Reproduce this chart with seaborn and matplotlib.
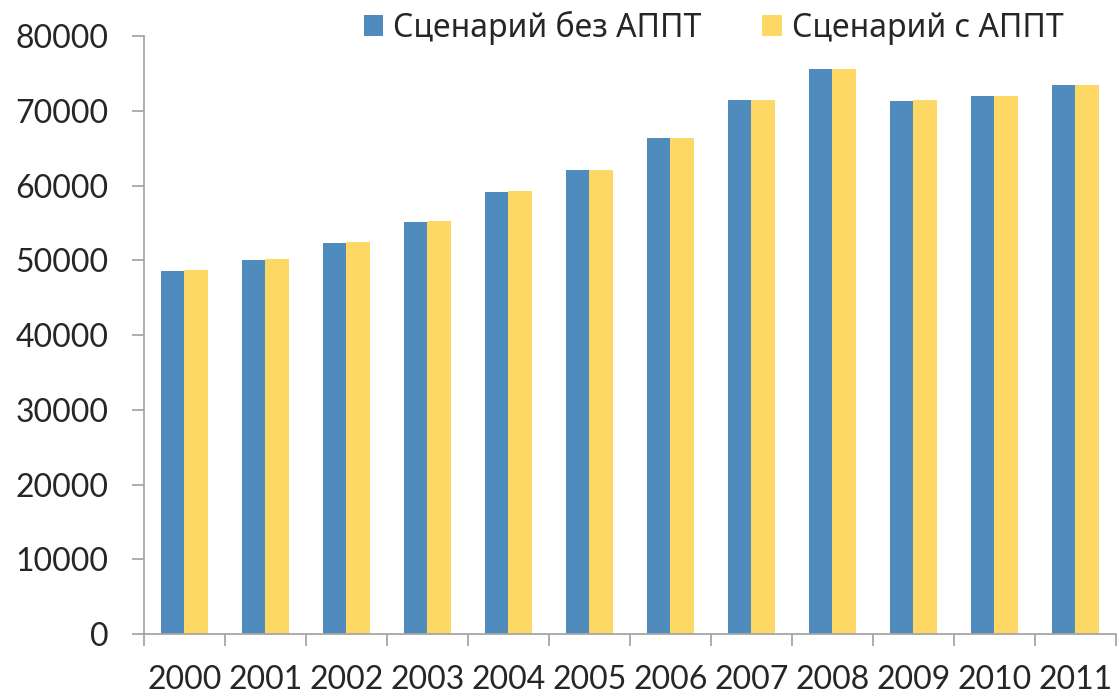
import numpy as np
import pandas as pd
import matplotlib
matplotlib.use("Agg")
import matplotlib.pyplot as plt
from matplotlib import font_manager
import seaborn as sns

years = ["2000", "2001", "2002", "2003", "2004", "2005",
         "2006", "2007", "2008", "2009", "2010", "2011"]
without_appt = [48570, 50080, 52350, 55080, 59170, 62030,
                66350, 71390, 75580, 71300, 71970, 73440]
with_appt = [48660, 50130, 52450, 55210, 59310, 62120,
             66390, 71430, 75580, 71430, 71970, 73400]
series_names = ["Сценарий без АППТ", "Сценарий с АППТ"]
yticks = [0, 10000, 20000, 30000, 40000, 50000, 60000, 70000, 80000]

df = pd.DataFrame({
    "year": years * 2,
    "value": without_appt + with_appt,
    "scenario": [series_names[0]] * len(years) + [series_names[1]] * len(years),
})

sns.set_style("white")
plt.rcParams["font.family"] = ["Lato", "DejaVu Sans"]

# legend text is cyrillic, Lato here has no cyrillic glyphs
installed = {f.name for f in font_manager.fontManager.ttflist}
legend_font = "Liberation Sans Narrow" if "Liberation Sans Narrow" in installed else "Noto Sans"

fig = plt.figure(figsize=(11.19, 6.99), dpi=100)
ax = fig.add_axes([0.1287, 0.0926, 0.8683, 0.856])

sns.barplot(data=df, x="year", y="value", hue="scenario",
            palette=["#4F8BBD", "#FDD865"], width=0.58,
            saturation=1, edgecolor="none", ax=ax, legend=True)

ax.set_ylim(0, 80000)
ax.set_xlim(-0.5, len(years) - 0.5)
ax.set_yticks(yticks)
ax.set_yticklabels([str(t) for t in yticks], fontsize=23)
ax.set_xlabel("")
ax.set_ylabel("")

gray = "#A6A6A6"
for side in ["top", "right"]:
    ax.spines[side].set_visible(False)
for side in ["left", "bottom"]:
    ax.spines[side].set_color(gray)
    ax.spines[side].set_linewidth(1.3)

ax.tick_params(axis="y", which="major", length=8.6, width=1.3, color=gray,
               direction="out", pad=17, left=True)
ax.tick_params(axis="x", which="major", length=0, pad=22, labelsize=23)
ax.set_xticks(np.arange(-0.5, len(years), 1.0), minor=True)
ax.tick_params(axis="x", which="minor", length=8.6, width=1.3, color=gray,
               direction="out", bottom=True)

handles, labels = ax.get_legend_handles_labels()
ax.get_legend().remove()
fig.legend(handles, labels, loc="center", bbox_to_anchor=(0.6376, 0.96),
           ncol=2, frameon=False, handlelength=0.62, handleheight=0.62,
           handletextpad=0.3, columnspacing=1.9,
           prop={"family": [legend_font, "DejaVu Sans"], "size": 23})

fig.savefig("out.png", dpi=100)
